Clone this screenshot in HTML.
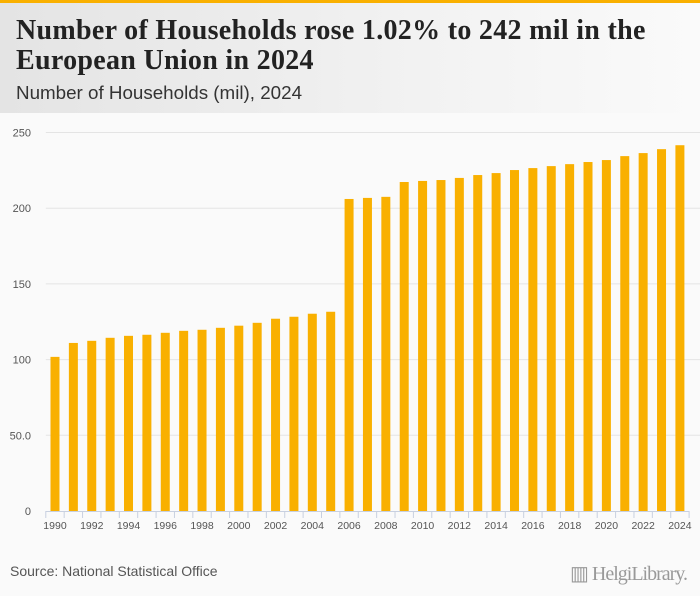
<!DOCTYPE html>
<html><head><meta charset="utf-8"><style>
body{margin:0;width:700px;height:596px;overflow:hidden;background:#fafafa;font-family:"Liberation Sans",sans-serif;position:relative}
#hdr{position:absolute;left:0;top:0;width:700px;height:113px;background:linear-gradient(90deg,#e4e4e4 0%,#f2f2f2 60%,#fafafa 100%);border-top:3px solid #f9b000;box-sizing:border-box}
#title{position:absolute;left:16px;top:13px;font-family:"Liberation Serif",serif;font-weight:bold;font-size:28px;line-height:30px;color:#222;letter-spacing:0.3px;white-space:nowrap}
#sub{position:absolute;left:16px;top:79px;font-size:18.8px;color:#333}
#src{position:absolute;left:10px;top:563px;font-size:14px;color:#555}
#logo{position:absolute;left:570px;top:561px;font-family:"Liberation Serif",serif;font-size:20px;color:#999;letter-spacing:-1px;white-space:nowrap}
</style></head><body>
<div id="hdr">
<div id="title">Number of Households rose 1.02% to 242 mil in the<br>European Union in 2024</div>
<div id="sub">Number of Households (mil), 2024</div>
</div>
<svg id="chart" width="700" height="596" style="position:absolute;left:0;top:0"></svg>
<div id="src">Source: National Statistical Office</div>
<div id="logo">▥ HelgiLibrary.</div>
<script>
const years=[1990,1991,1992,1993,1994,1995,1996,1997,1998,1999,2000,2001,2002,2003,2004,2005,2006,2007,2008,2009,2010,2011,2012,2013,2014,2015,2016,2017,2018,2019,2020,2021,2022,2023,2024];
const households=[101.8,111,112.4,114.4,115.7,116.4,117.7,119,119.7,121,122.4,124.3,127,128.3,130.3,131.6,206.1,206.8,207.5,217.3,218,218.6,220,221.9,223.2,225.2,226.5,227.8,229.1,230.5,231.8,234.4,236.4,239,241.6];
const yTicks=[0,50,100,150,200,250];
const yTickLabels=["0","50.0","100","150","200","250"];
const NS="http://www.w3.org/2000/svg";
const svg=document.getElementById('chart');
const x0=45.8,x1=689.1,y0=511,yTop=132.5,vmax=250;
const step=(x1-x0)/years.length;
const xc=i=>x0+step*(i+0.5);
const y=v=>y0-(v/vmax)*(y0-yTop);
function mk(t,a){const e=document.createElementNS(NS,t);for(const k in a)e.setAttribute(k,a[k]);svg.appendChild(e);return e;}
yTicks.forEach((t,i)=>{
 if(t>0){const g=mk('line',{x1:x0,x2:700,y1:y(t),y2:y(t),stroke:'#e4e4e4','stroke-width':1});
 
 }
 const l=mk('text',{x:31,y:y(t)+4,'text-anchor':'end','font-size':11,fill:'#555','font-family':'Liberation Sans, sans-serif'});
 l.textContent=yTickLabels[i];
 
 
});
households.forEach((v,i)=>{
 const r=mk('rect',{x:xc(i)-4.5,y:y(v),width:9,height:y0-y(v),fill:'#f9b000'});
 
 
});
const ax=mk('line',{x1:x0,x2:x1,y1:y0+0.5,y2:y0+0.5,stroke:'#c8d0e0','stroke-width':1});


for(let i=0;i<=years.length;i++){
 const tk=mk('line',{x1:x0+step*i,x2:x0+step*i,y1:y0,y2:y0+7,stroke:'#c8d0e0','stroke-width':1});
 
 
}
years.forEach((yr,i)=>{
 if(i%2) return;
 const l=mk('text',{x:xc(i),y:y0+18,'text-anchor':'middle','font-size':10.5,fill:'#555','font-family':'Liberation Sans, sans-serif'});
 l.textContent=yr;
 
 
});
</script>
</body></html>
